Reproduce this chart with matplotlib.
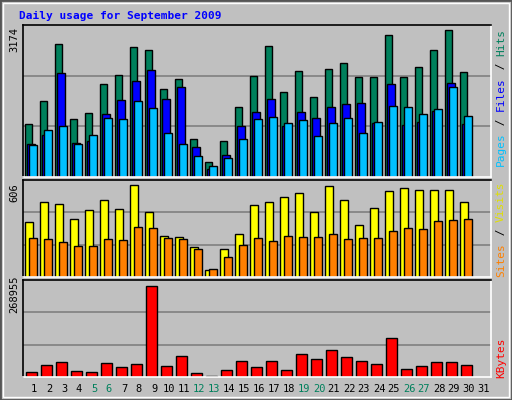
import numpy as np
import matplotlib
matplotlib.use("Agg")
import matplotlib.pyplot as plt
from matplotlib.patches import Rectangle

days = np.arange(1, 31)
day_labels = [str(d) for d in range(1, 32)]
weekend_days = [5, 6, 12, 13, 19, 20, 26, 27]

hits = [1149, 1626, 2874, 1253, 1382, 2007, 2201, 2791, 2726, 1899, 2115, 826,
        332, 782, 1516, 2182, 2830, 1839, 2291, 1731, 2334, 2464, 2157, 2157,
        3066, 2157, 2377, 2726, 3174, 2265]
files = [719, 913, 2248, 740, 770, 1361, 1667, 2075, 2313, 1689, 1947, 653,
         181, 481, 1102, 1404, 1689, 1102, 1404, 1275, 1512, 1577, 1598, 1167,
         2010, 1124, 1189, 1426, 2032, 1146]
pages = [697, 1020, 1107, 719, 913, 1275, 1253, 1626, 1491, 955, 719, 459,
         245, 416, 826, 1253, 1297, 1167, 1232, 891, 1167, 1275, 955, 1189,
         1534, 1512, 1361, 1469, 1946, 1318]
visits = [363, 495, 481, 382, 441, 507, 448, 606, 428, 270, 264, 198,
          46, 185, 283, 474, 494, 527, 554, 428, 600, 507, 342, 455,
          567, 587, 573, 573, 573, 494]
sites = [257, 250, 231, 204, 204, 250, 244, 329, 323, 257, 250, 185,
         53, 132, 211, 257, 240, 270, 264, 264, 283, 250, 257, 257,
         303, 323, 316, 369, 375, 382]
kbytes = [15704, 36315, 45149, 18649, 15704, 42204, 30426, 39259, 268955,
          33370, 62817, 12759, 3926, 21593, 48093, 30426, 48093, 21593, 68706,
          53983, 80483, 59872, 48093, 39259, 116077, 24538, 33370, 45149,
          45149, 36315]

BG = "#c0c0c0"
W, H = 512, 400
fig = plt.figure(figsize=(W / 100, H / 100), dpi=100)
fig.patch.set_facecolor(BG)
fig.patches.append(Rectangle((0, 0), 1, 1, transform=fig.transFigure,
                             fill=False, edgecolor="#555555", lw=2))
fig.patches.append(Rectangle((3 / W, 3 / H), 1 - 6 / W, 1 - 6 / H, transform=fig.transFigure,
                             fill=False, edgecolor="white", lw=1))

MONO = "DejaVu Sans Mono"
fig.text(19 / W, 1 - 16 / H, "Daily usage for September 2009", color="#0000ff",
         family=MONO, weight="bold", fontsize=8, va="center")

x = np.array(days, dtype=float)


def panel(top, bottom):
    ax = fig.add_axes([23 / W, 1 - bottom / H, (491 - 23) / W, (bottom - top) / H])
    ax.set_facecolor(BG)
    ax.set_xlim(0.27, 31.47)
    ax.set_xticks([])
    ax.set_yticks([])
    for s in ax.spines.values():
        s.set_color("black")
        s.set_linewidth(1.2)
    ax.spines["right"].set_color("white")
    ax.spines["bottom"].set_color("white")
    return ax


def grid(ax, ymax):
    for f in (1 / 3, 2 / 3):
        ax.axhline(ymax * f, color="#808080", lw=1.2, zorder=0)


def bars(ax, left_off, width, vals, color):
    ax.bar(x + left_off, vals, width=width, align="edge", color=color,
           edgecolor="black", lw=1, zorder=2)


# top panel
ax1 = panel(25, 177)
ym1 = 3174 * 152 / 147.4
ax1.set_ylim(0, ym1)
grid(ax1, ym1)
bars(ax1, -0.6, 0.5, hits, "#00805c")
bars(ax1, -0.45, 0.5, files, "#0000ff")
bars(ax1, -0.33, 0.5, pages, "#00c0ff")

# middle panel
ax2 = panel(180, 277)
ym2 = 606 * 97 / 92
ax2.set_ylim(0, ym2)
grid(ax2, ym2)
bars(ax2, -0.6, 0.55, visits, "#ffff00")
bars(ax2, -0.33, 0.5, sites, "#ff8000")

# bottom panel
ax3 = panel(280, 377)
ym3 = 268955 * 97 / 91.3
ax3.set_ylim(0, ym3)
grid(ax3, ym3)
bars(ax3, -0.53, 0.7, kbytes, "#ff0000")

# left max labels
for txt, yc in (("3174", 40), ("606", 193), ("268955", 294)):
    fig.text(14 / W, 1 - yc / H, txt, rotation=90, family=MONO, fontsize=7.5,
             ha="center", va="center")

# day labels
for d, lab in enumerate(day_labels, start=1):
    xp = (34 + (d - 1) * 15) / W
    col = "#00805c" if d in weekend_days else "black"
    fig.text(xp, 1 - 389 / H, lab, color=col, family=MONO, fontsize=7.5,
             ha="center", va="center")


# right side rotated legends, stacked bottom to top
def stacked(parts, y_bottom):
    yp = y_bottom
    for txt, col in parts:
        fig.text(501 / W, 1 - yp / H, txt, rotation=90, color=col, family=MONO,
                 fontsize=8, ha="center", va="bottom")
        yp -= len(txt) * 6.9


stacked([("Pages", "#00c0ff"), (" / ", "black"), ("Files", "#0000ff"),
         (" / ", "black"), ("Hits", "#00805c")], 166)
stacked([("Sites", "#ff8000"), (" / ", "black"), ("Visits", "#e0e000")], 277)
stacked([("KBytes", "#ff0000")], 378)

fig.savefig("out.png", dpi=100, facecolor=BG)
